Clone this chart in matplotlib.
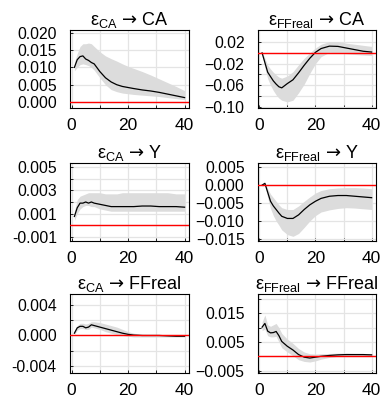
"""Impulse responses (median + band) for the CA / Y / FFreal system, 3x2 grid."""
import numpy as np
import matplotlib
matplotlib.use("Agg")
import matplotlib.pyplot as plt

plt.rcParams["font.family"] = ["Liberation Sans", "DejaVu Sans"]
plt.rcParams["mathtext.fontset"] = "custom"
plt.rcParams["mathtext.rm"] = "Liberation Sans"
plt.rcParams["mathtext.it"] = "Liberation Sans:italic"
plt.rcParams["mathtext.bf"] = "Liberation Sans:bold"
plt.rcParams["mathtext.sf"] = "DejaVu Sans"  # only used for the long arrow

horizon = [1, 2, 3, 4, 5, 6, 7, 8, 10, 12, 14, 16, 18, 20, 22, 25, 28, 31, 34, 37, 40]

# eps_CA -> CA
ca_ca = [0.0100, 0.0122, 0.0131, 0.0133, 0.0124, 0.0120, 0.0114, 0.0110, 0.0088, 0.0070, 0.0058,
         0.0050, 0.0045, 0.0042, 0.0039, 0.0035, 0.0032, 0.0028, 0.0023, 0.0018, 0.0013]
ca_ca_hi = [0.0115, 0.0140, 0.0160, 0.0168, 0.0168, 0.0170, 0.0168, 0.0160, 0.0145, 0.0133, 0.0125,
            0.0118, 0.0110, 0.0103, 0.0097, 0.0088, 0.0078, 0.0067, 0.0056, 0.0045, 0.0033]
ca_ca_lo = [0.0090, 0.0100, 0.0108, 0.0110, 0.0108, 0.0105, 0.0100, 0.0092, 0.0070, 0.0050, 0.0036,
            0.0030, 0.0026, 0.0024, 0.0022, 0.0020, 0.0018, 0.0016, 0.0013, 0.0010, 0.0007]

# eps_FFreal -> CA
ff_ca = [0.000, -0.018, -0.036, -0.044, -0.052, -0.058, -0.063, -0.065, -0.057, -0.050, -0.037,
         -0.023, -0.010, 0.001, 0.008, 0.0125, 0.012, 0.009, 0.006, 0.003, 0.0015]
ff_ca_hi = [0.002, -0.010, -0.023, -0.030, -0.036, -0.041, -0.045, -0.047, -0.043, -0.035, -0.022,
            -0.010, 0.000, 0.009, 0.016, 0.021, 0.021, 0.018, 0.016, 0.014, 0.012]
ff_ca_lo = [-0.002, -0.028, -0.048, -0.060, -0.070, -0.078, -0.084, -0.088, -0.091, -0.088, -0.074,
            -0.058, -0.038, -0.020, -0.007, 0.001, 0.000, -0.0015, -0.003, -0.004, -0.005]

# eps_CA -> Y
ca_y = [0.00075, 0.0015, 0.0019, 0.0019, 0.0020, 0.0019, 0.0020, 0.0019, 0.0018, 0.0017, 0.0016,
        0.0016, 0.0016, 0.0016, 0.0016, 0.00165, 0.00165, 0.0016, 0.0016, 0.0016, 0.00155]
ca_y_hi = [0.0012, 0.0022, 0.0025, 0.0026, 0.0027, 0.0028, 0.0028, 0.0028, 0.0028, 0.0027, 0.0027,
           0.0027, 0.0028, 0.0028, 0.0028, 0.0028, 0.0028, 0.0028, 0.0028, 0.0027, 0.0027]
ca_y_lo = [0.0004, 0.0010, 0.0014, 0.0016, 0.0017, 0.0017, 0.0016, 0.0016, 0.0014, 0.0013, 0.0012,
           0.0012, 0.0012, 0.0012, 0.0012, 0.0012, 0.0012, 0.0012, 0.0012, 0.0012, 0.0012]

# eps_FFreal -> Y
ff_y = [0.0000, 0.0005, -0.0020, -0.0045, -0.0058, -0.0068, -0.0078, -0.0087, -0.0093, -0.0093, -0.0083,
        -0.0068, -0.0055, -0.0045, -0.0037, -0.0031, -0.0029, -0.0029, -0.0031, -0.0033, -0.0035]
ff_y_hi = [0.0003, 0.0008, -0.0010, -0.0025, -0.0035, -0.0045, -0.0055, -0.0063, -0.0068, -0.0068, -0.0058,
           -0.0045, -0.0033, -0.0022, -0.0015, -0.0010, -0.0008, -0.0007, -0.0007, -0.0008, -0.0010]
ff_y_lo = [-0.0003, 0.0000, -0.0035, -0.0065, -0.0085, -0.0100, -0.0112, -0.0125, -0.0138, -0.0143, -0.0135,
           -0.0118, -0.0100, -0.0085, -0.0075, -0.0069, -0.0065, -0.0063, -0.0064, -0.0066, -0.0068]

# eps_CA -> FFreal
ca_ff = [0.0003, 0.0010, 0.0012, 0.0012, 0.0010, 0.0011, 0.0014, 0.0013, 0.0011, 0.0009, 0.0007,
         0.0005, 0.0003, 0.00015, 0.00005, 0.0, 0.0, 0.0, -0.00005, -0.0001, -0.0001]
ca_ff_hi = [0.0006, 0.0013, 0.0016, 0.0016, 0.0015, 0.0016, 0.0018, 0.0018, 0.0017, 0.0015, 0.0013,
            0.0011, 0.0008, 0.0005, 0.0003, 0.00015, 0.0001, 0.0001, 0.0, 0.0, 0.0]
ca_ff_lo = [0.0001, 0.0007, 0.0009, 0.0009, 0.0008, 0.0008, 0.0011, 0.0010, 0.0008, 0.0005, 0.0003,
            0.0001, 0.0, -0.0001, -0.0002, -0.0002, -0.0002, -0.0002, -0.0002, -0.0002, -0.0002]

# eps_FFreal -> FFreal
ff_ff = [0.0102, 0.0115, 0.0088, 0.0082, 0.0083, 0.0087, 0.0072, 0.0052, 0.0035, 0.0022, 0.0006,
         -0.0003, -0.0006, -0.0003, 0.0, 0.0003, 0.0005, 0.0006, 0.0006, 0.0006, 0.0005]
ff_ff_hi = [0.0120, 0.0145, 0.0110, 0.0105, 0.0110, 0.0115, 0.0100, 0.0080, 0.0060, 0.0045, 0.0027,
            0.0015, 0.0009, 0.0008, 0.0009, 0.0010, 0.0011, 0.0011, 0.0010, 0.0010, 0.0009]
ff_ff_lo = [0.0090, 0.0095, 0.0072, 0.0068, 0.0068, 0.0070, 0.0050, 0.0030, 0.0015, 0.0002, -0.0012,
            -0.0018, -0.0020, -0.0016, -0.0010, -0.0004, 0.0, 0.0001, 0.0002, 0.0002, 0.0002]

x_ticks = [0, 10, 20, 30, 40]
x_labels = ["0", "", "20", "", "40"]

M = "\u2212"
# (shock, response, mid, lo, hi, ylim, grid ticks, tick labels)
panels = [
    ("CA", "CA", ca_ca, ca_ca_lo, ca_ca_hi, (-0.0017, 0.0209),
     [0, 0.005, 0.010, 0.015, 0.020], ["0.000", "0.005", "0.010", "0.015", "0.020"]),
    ("FFreal", "CA", ff_ca, ff_ca_lo, ff_ca_hi, (-0.1024, 0.0434),
     [-0.10, -0.08, -0.06, -0.04, -0.02, 0, 0.02],
     [M + "0.10", "", M + "0.06", "", M + "0.02", "", "0.02"]),
    ("CA", "Y", ca_y, ca_y_lo, ca_y_hi, (-0.00137, 0.00534),
     [-0.001, 0, 0.001, 0.002, 0.003, 0.004, 0.005],
     ["-0.001", "", "0.001", "", "0.003", "", "0.005"]),
    ("FFreal", "Y", ff_y, ff_y_lo, ff_y_hi, (-0.0156, 0.0061),
     [-0.015, -0.010, -0.005, 0, 0.005],
     [M + "0.015", M + "0.010", M + "0.005", "0.000", "0.005"]),
    ("CA", "FFreal", ca_ff, ca_ff_lo, ca_ff_hi, (-0.00496, 0.0054),
     [-0.004, -0.002, 0, 0.002, 0.004], ["-0.004", "", "0.000", "", "0.004"]),
    ("FFreal", "FFreal", ff_ff, ff_ff_lo, ff_ff_hi, (-0.00595, 0.0217),
     [-0.005, 0, 0.005, 0.010, 0.015, 0.020], [M + "0.005", "", "0.005", "", "0.015", ""]),
]

W, H = 381, 403
fig = plt.figure(figsize=(W / 100, H / 100), dpi=100)
cols = [(70, 189), (257.7, 376)]
rows = [(29.5, 108), (163.3, 241), (294.3, 373.3)]

for k, (shock, resp, mid, lo, hi, ylim, yt, yl) in enumerate(panels):
    r, c = divmod(k, 2)
    x0, x1 = cols[c]
    y0, y1 = rows[r]
    ax = fig.add_axes([x0 / W, 1 - y1 / H, (x1 - x0) / W, (y1 - y0) / H])
    ax.fill_between(horizon, lo, hi, color="#dcdcdc", lw=0, zorder=2)
    ax.plot(horizon, mid, color="black", lw=0.9, zorder=3)
    ax.axhline(0, color="red", lw=1.0, zorder=4)
    ax.set_xlim(-0.56, 41.56)
    ax.set_ylim(*ylim)
    ax.set_xticks(x_ticks)
    ax.set_xticklabels(x_labels, fontsize=12.5)
    ax.set_yticks(yt)
    ax.set_yticklabels(yl, fontsize=11.3)
    ax.grid(True, color="#e4e4e4", lw=0.9, zorder=1)
    ax.set_axisbelow(True)
    ax.tick_params(axis="both", direction="in", length=2.5, width=0.6)
    ax.tick_params(axis="y", pad=9.5)
    ax.tick_params(axis="x", pad=7)
    for s in ax.spines.values():
        s.set_linewidth(0.8)
    ax.set_title(r"$\mathrm{ε}_{\mathrm{%s}}\ \mathsf{→}\ \mathrm{%s}$" % (shock, resp),
                 fontsize=13, pad=3)

fig.savefig("out.png", dpi=100)
